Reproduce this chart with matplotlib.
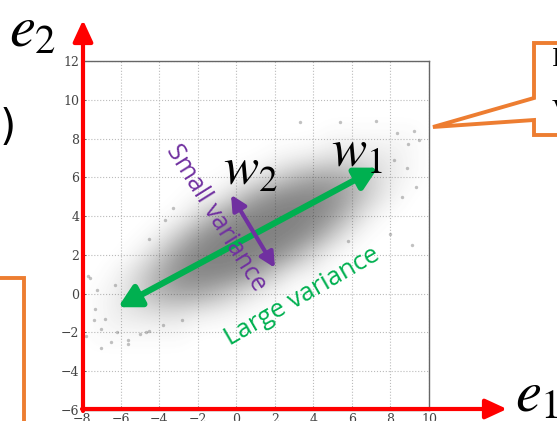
import numpy as np
import matplotlib
matplotlib.use("Agg")
import matplotlib.pyplot as plt
from matplotlib.colors import LinearSegmentedColormap
from matplotlib.patches import Polygon

# ---------------- data ----------------
x_ticks = [-8, -6, -4, -2, 0, 2, 4, 6, 8, 10]
y_ticks = [-6, -4, -2, 0, 2, 4, 6, 8, 10, 12]
x_lim = (-8, 10)
y_lim = (-6, 12)

# estimated relative point density (0-100) per 1x1 cell
# columns: x = -8 .. 10 ; rows: y = 12 (top) .. -6 (bottom)
cell_x = list(range(-8, 11))
cell_y = list(range(12, -7, -1))
density = [
    [0]*19,  # y=12
    [0]*19,  # y=11
    [0]*19,  # y=10
    [0]*19,  # y=9
    [0,0,0,0,0,0,0,0,0,0,0,0,0,1,1,1,1,1,0],          # y=8
    [0,0,0,0,0,0,0,0,0,0,1,2,3,5,5,4,3,1,0],          # y=7
    [0,0,0,0,0,0,0,0,1,3,7,13,19,19,15,8,3,1,0],      # y=6
    [0,0,0,0,0,0,1,2,8,20,36,47,46,33,17,7,2,0,0],    # y=5
    [0,0,0,0,0,1,6,17,40,67,83,76,51,25,9,2,0,0,0],   # y=4
    [0,0,0,0,2,9,25,54,86,100,86,54,25,9,2,0,0,0,0],  # y=3
    [0,0,0,2,9,25,51,76,83,67,40,17,6,1,0,0,0,0,0],   # y=2
    [0,0,2,7,17,33,46,47,36,20,8,2,1,0,0,0,0,0,0],    # y=1
    [0,1,3,8,15,19,19,13,7,3,1,0,0,0,0,0,0,0,0],      # y=0
    [0,1,3,4,5,5,3,2,1,0,0,0,0,0,0,0,0,0,0],          # y=-1
    [0,1,1,1,1,1,0,0,0,0,0,0,0,0,0,0,0,0,0],          # y=-2
    [0]*19,  # y=-3
    [0]*19,  # y=-4
    [0]*19,  # y=-5
    [0]*19,  # y=-6
]

# sparse outlying points
out_x = [-7.6, -7.3, -7.0, -6.5, -7.8, -6.8, -5.6, -6.2, -5.0, -4.5, -7.2, -5.3,
         -3.3, -6.3, -7.7, -7.4, -7.0, -5.6, -4.7, -3.8, -2.8, -4.5, -3.7,
         3.3, 5.4, 7.25, 9.2, 9.5, 8.35, 8.85, 9.3, 8.6, 9.1, 8.0, 5.8, 8.9, 8.2]
out_y = [0.8, -0.8, -1.8, -2.5, -2.2, -1.3, -2.6, -2.0, -2.1, -1.9, 0.2, -0.4,
         4.4, 0.45, 0.9, -1.35, -2.8, -2.4, -2.0, -1.6, -1.35, 2.8, 3.8,
         8.86, 8.86, 8.9, 8.4, 7.9, 8.3, 6.5, 5.5, 5.0, 2.5, 3.1, 2.7, 7.7, 6.9]

# principal direction arrows (data coordinates)
w1_start = (-6.13, -0.70)
w1_end = (7.35, 6.50)
w2_start = (-0.27, 5.10)
w2_end = (2.01, 1.33)

GREEN = "#00B050"
PURPLE = "#7030A0"
ORANGE = "#ED7D31"
RED = "#FF0000"

# ---------------- figure ----------------
W, H = 557, 421
fig = plt.figure(figsize=(W/100, H/100), dpi=100)
fig.patch.set_facecolor("white")
plt.rcParams['mathtext.fontset'] = 'stix'

ax = fig.add_axes([82/W, 1-410/H, (429-82)/W, (410-61)/H])
ax.set_xlim(*x_lim)
ax.set_ylim(*y_lim)
ax.set_xticks(x_ticks)
ax.set_yticks(y_ticks)
ax.set_xticklabels([f"\u2212{abs(t)}" if t < 0 else str(t) for t in x_ticks])
ax.set_yticklabels([f"\u2212{abs(t)}" if t < 0 else str(t) for t in y_ticks])
ax.tick_params(direction="in", length=3, width=0.6, colors="#555555",
               labelsize=9, labelcolor="#444444", pad=2)
for lab in ax.get_xticklabels() + ax.get_yticklabels():
    lab.set_family("DejaVu Serif")
ax.grid(True, linestyle=":", color="#bbbbbb", linewidth=0.8)
ax.set_axisbelow(True)
for s in ax.spines.values():
    s.set_color("#666666")
    s.set_linewidth(1.0)

# point cloud density
d = np.array(density, dtype=float)
v = 1 - np.exp(-d / 15.0)
cmap = LinearSegmentedColormap.from_list(
    "cloud", [(0.3, 0.3, 0.3, 0.0), (0.2, 0.2, 0.2, 0.62)])
ax.imshow(v, extent=(cell_x[0]-0.5, cell_x[-1]+0.5, cell_y[-1]-0.5, cell_y[0]+0.5),
          origin="upper", cmap=cmap, vmin=0, vmax=1, interpolation="bicubic",
          aspect="auto", zorder=1)
ax.scatter(out_x, out_y, s=6, color="#777777", alpha=0.45, linewidths=0, zorder=2)

# arrows
ax.annotate("", xy=w1_end, xytext=w1_start,
            arrowprops=dict(arrowstyle="<|-|>,head_length=1.3,head_width=0.7",
                            color=GREEN, lw=4.5, shrinkA=0, shrinkB=0), zorder=5)
ax.annotate("", xy=w2_end, xytext=w2_start,
            arrowprops=dict(arrowstyle="<|-|>,head_length=0.9,head_width=0.45",
                            color=PURPLE, lw=3.0, shrinkA=0, shrinkB=0), zorder=6)

ax.text(0.71, 6.38, r"$w_2$", fontsize=38, ha="center", va="center", zorder=7)
ax.text(6.26, 7.31, r"$w_1$", fontsize=38, ha="center", va="center", zorder=7)

ax.text(-1.05, 3.9, "Small variance", color=PURPLE, fontsize=18, rotation=-58,
        ha="center", va="center", family="Open Sans", rotation_mode="anchor", zorder=7)
ax.text(3.41, -0.16, "Large variance", color=GREEN, fontsize=18.5, rotation=30,
        ha="center", va="center", family="Open Sans", rotation_mode="anchor", zorder=7)

# red coordinate axes (figure pixels, origin bottom-left)
ax.annotate("", xy=(83, H-20), xytext=(83, H-411), xycoords="figure pixels",
            textcoords="figure pixels",
            arrowprops=dict(arrowstyle="-|>,head_length=1.3,head_width=0.6",
                            color=RED, lw=3.0, shrinkA=0, shrinkB=0),
            annotation_clip=False)
ax.annotate("", xy=(507, H-409), xytext=(82, H-409), xycoords="figure pixels",
            textcoords="figure pixels",
            arrowprops=dict(arrowstyle="-|>,head_length=1.3,head_width=0.6",
                            color=RED, lw=3.0, shrinkA=0, shrinkB=0),
            annotation_clip=False)
fig.text(33/W, 1-30/H, r"$e_2$", fontsize=42, ha="center", va="center")
fig.text(537/W, 1-395/H, r"$e_1$", fontsize=42, ha="center", va="center")

# orange callouts (figure pixels)
def px(pts):
    return [(x/W, 1-y/H) for x, y in pts]

callout = Polygon(px([(560, 43), (534, 43), (534, 98), (433, 127), (534, 120),
                      (534, 135), (560, 135)]), closed=False, fill=False,
                  edgecolor=ORANGE, lw=2.8, transform=fig.transFigure,
                  joinstyle="miter")
fig.add_artist(callout)
leftbox = Polygon(px([(-5, 278), (24, 278), (24, 425)]), closed=False, fill=False,
                  edgecolor=ORANGE, lw=2.8, transform=fig.transFigure,
                  joinstyle="miter")
fig.add_artist(leftbox)

fig.text(552/W, 1-60/H, "I", fontsize=20, family="Liberation Serif",
         ha="left", va="center")
fig.text(552/W, 1-112/H, "V", fontsize=20, family="Liberation Serif",
         ha="left", va="center")
fig.text(0/W, 1-128/H, ")", fontsize=30, family="DejaVu Sans",
         ha="left", va="center")

fig.savefig("out.png", dpi=100, facecolor="white")
